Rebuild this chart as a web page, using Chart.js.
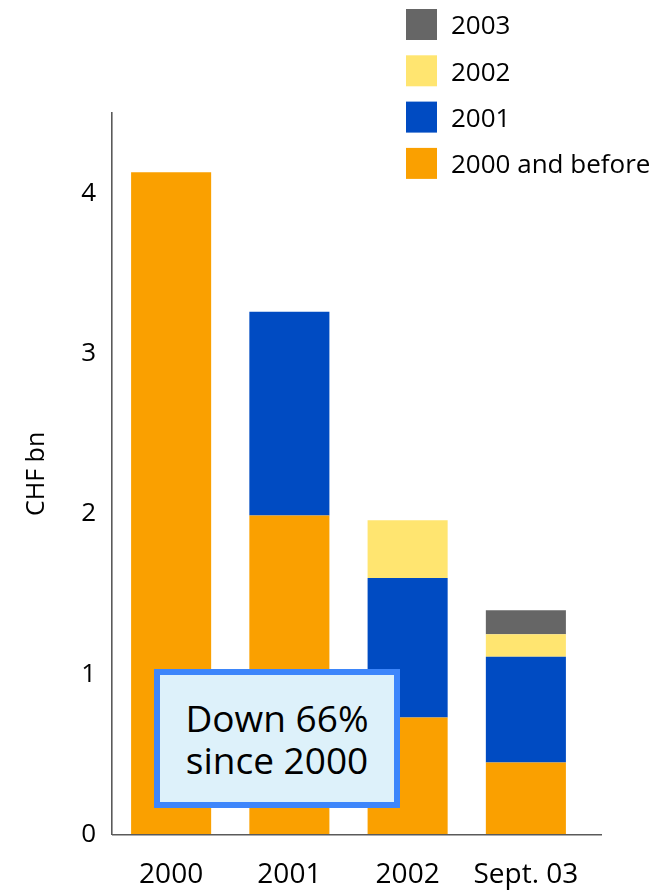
<!DOCTYPE html>
<html>
<head>
<meta charset="utf-8">
<script src="https://cdn.jsdelivr.net/npm/chart.js@4"></script>
<style>
  html, body { margin: 0; padding: 0; background: #fff; }
  #wrap { position: relative; width: 661px; height: 892px; }
  #note {
    position: absolute; left: 154px; top: 669px; width: 234px; height: 127px;
    border: 6px solid #3d86fb; background: #ddf1fa;
    font-family: "Open Sans", sans-serif; font-size: 37px; font-weight: 500; line-height: 42px;
    color: #000; text-align: center; display: flex; flex-direction: column;
    justify-content: center;
  }
</style>
</head>
<body>
<div id="wrap">
  <canvas id="c" width="661" height="892"></canvas>
  <div id="note"><div>Down 66%</div><div>since 2000</div></div>
</div>
<script>
// Categories along the x axis
const categories = ['2000', '2001', '2002', 'Sept. 03'];

// Stack components, CHF bn, by vintage year
const vintage2000AndBefore = [4.13, 1.99, 0.73, 0.45];
const vintage2001 = [0, 1.27, 0.87, 0.66];
const vintage2002 = [0, 0, 0.36, 0.14];
const vintage2003 = [0, 0, 0, 0.15];

// Y tick values shown on the axis
const yTicks = [0, 1, 2, 3, 4];

const seriesNames = ['2000 and before', '2001', '2002', '2003'];
const seriesColors = ['#faa000', '#004bc2', '#ffe570', '#666666'];
const seriesValues = [vintage2000AndBefore, vintage2001, vintage2002, vintage2003];

const FONT = '"Open Sans", sans-serif';

// Legend drawn as a single column, newest vintage on top
const columnLegend = {
  id: 'columnLegend',
  afterDraw(chart) {
    const ctx = chart.ctx;
    const items = chart.data.datasets.slice().reverse();
    ctx.save();
    ctx.font = '500 26px ' + FONT;
    ctx.textBaseline = 'middle';
    ctx.textAlign = 'left';
    items.forEach((ds, i) => {
      const top = 9 + i * 46.3;
      ctx.fillStyle = ds.backgroundColor;
      ctx.fillRect(406, top, 31, 31);
      ctx.fillStyle = '#000';
      ctx.fillText(ds.label, 451, top + 18);
    });
    ctx.restore();
  }
};

// Baseline drawn over the bars, running a little past the last category
const baseline = {
  id: 'baseline',
  afterDatasetsDraw(chart) {
    const { ctx, chartArea } = chart;
    const y = chart.scales.y.getPixelForValue(0);
    ctx.save();
    ctx.strokeStyle = '#5a5a5a';
    ctx.lineWidth = 1.6;
    ctx.beginPath();
    ctx.moveTo(chartArea.left, y);
    ctx.lineTo(chartArea.right + 17, y);
    ctx.stroke();
    ctx.restore();
  }
};

new Chart(document.getElementById('c'), {
  type: 'bar',
  data: {
    labels: categories,
    datasets: seriesValues.map((vals, i) => ({
      label: seriesNames[i],
      data: vals,
      backgroundColor: seriesColors[i],
      borderWidth: 0,
      categoryPercentage: 1,
      barPercentage: 0.677
    }))
  },
  options: {
    responsive: false,
    devicePixelRatio: 1,
    animation: false,
    layout: { padding: { top: 113, right: 76, left: 0, bottom: 0 } },
    plugins: {
      legend: { display: false },
      tooltip: { enabled: false }
    },
    scales: {
      x: {
        stacked: true,
        offset: true,
        grid: { display: false, drawTicks: false },
        border: { display: false },
        ticks: { font: { family: FONT, size: 28, weight: '500' }, color: '#000', padding: 24, maxRotation: 0 },
        afterFit(scale) { scale.height = 57.3; }
      },
      y: {
        stacked: true,
        min: 0,
        max: 4.5,
        afterBuildTicks(scale) { scale.ticks = yTicks.map(v => ({ value: v })); },
        ticks: { font: { family: FONT, size: 26, weight: '500' }, color: '#000', padding: 16 },
        grid: { display: false, drawTicks: false },
        border: { display: true, color: '#5a5a5a', width: 1.6 },
        title: {
          display: true,
          text: 'CHF bn',
          font: { family: FONT, size: 25, weight: '500' },
          color: '#000',
          padding: { top: 22, bottom: 0 }
        },
        afterFit(scale) { scale.width = 112; }
      }
    }
  },
  plugins: [columnLegend, baseline]
});
</script>
</body>
</html>
